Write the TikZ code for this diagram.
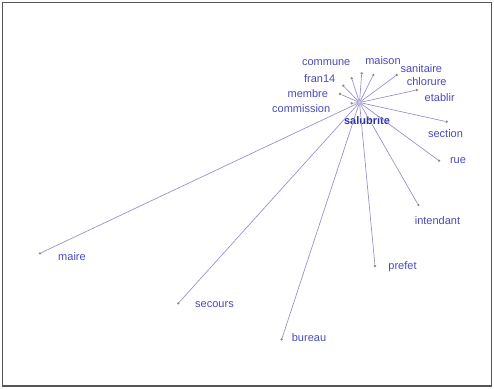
\documentclass[tikz,border=0pt]{standalone}
\usepackage{fontspec}
\setmainfont{Liberation Sans}
\usetikzlibrary{calc}
\definecolor{wordblue}{RGB}{72,74,186}
\definecolor{hubblue}{RGB}{38,50,166}
\definecolor{spoke}{RGB}{150,140,200}
\definecolor{dotgray}{RGB}{150,132,124}
\definecolor{frame}{RGB}{85,85,85}

\begin{document}
\begin{tikzpicture}[x=1pt,y=-1pt,
  word/.style={text=wordblue,font=\fontsize{11}{12}\selectfont,inner sep=0pt},
  leaf/.style={circle,fill=dotgray,inner sep=0pt,minimum size=2.6pt},
  link/.style={spoke,line width=0.65pt}]
  % frame of the figure
  \useasboundingbox (0,0) rectangle (494,388);
  \draw[frame,line width=1.1pt] (2.5,2.5) rectangle (491.5,386);
  % hub
  \node[circle,draw=spoke!80,fill=spoke!40,inner sep=0pt,minimum size=3.5pt] (hub) at (359.5,102.5) {};
  \node[text=hubblue,font=\fontsize{11}{12}\selectfont\bfseries,inner sep=0pt] (lsalubrite) at (367,120.7) {salubrite};
  % end points of the spokes
  \node[leaf] (dcommune) at (351.7,78.3) {};
  \node[leaf] (dmaison) at (361.7,73.3) {};
  \node[leaf] (dsanitaire) at (373.3,75) {};
  \node[leaf] (dchlorure) at (396.7,75) {};
  \node[leaf] (detablir) at (416.7,90) {};
  \node[leaf] (dfran) at (343.3,85.7) {};
  \node[leaf] (dmembre) at (340,94) {};
  \node[leaf] (dcommission) at (351.7,103.3) {};
  \node[leaf] (dsection) at (446.7,121.7) {};
  \node[leaf] (drue) at (439,160.7) {};
  \node[leaf] (dintendant) at (418.3,205) {};
  \node[leaf] (dprefet) at (375,266) {};
  \node[leaf] (dbureau) at (281.7,339.3) {};
  \node[leaf] (dsecours) at (178.3,303.3) {};
  \node[leaf] (dmaire) at (40,253.3) {};
  % spokes
  \draw[link] (hub) -- (dcommune);
  \draw[link] (hub) -- (dmaison);
  \draw[link] (hub) -- (dsanitaire);
  \draw[link] (hub) -- (dchlorure);
  \draw[link] (hub) -- (detablir);
  \draw[link] (hub) -- (dfran);
  \draw[link] (hub) -- (dmembre);
  \draw[link] (hub) -- (dcommission);
  \draw[link] (hub) -- (dsection);
  \draw[link] (hub) -- (drue);
  \draw[link] (hub) -- (dintendant);
  \draw[link] (hub) -- (dprefet);
  \draw[link] (hub) -- (dbureau);
  \draw[link] (hub) -- (dsecours);
  \draw[link] (hub) -- (dmaire);
  % words
  \node[word] (lcommune) at (326.2,62.3) {commune};
  \node[word] (lmaison) at (383,60.7) {maison};
  \node[word] (lsanitaire) at (421.3,68.3) {sanitaire};
  \node[word] (lchlorure) at (426.7,81.7) {chlorure};
  \node[word] (letablir) at (439.7,97.3) {etablir};
  \node[word] (lfran) at (319.7,79) {fran14};
  \node[word] (lmembre) at (307.8,93.3) {membre};
  \node[word] (lcommission) at (301.2,109) {commission};
  \node[word] (lsection) at (445.5,133.3) {section};
  \node[word] (lrue) at (458,160.7) {rue};
  \node[word] (lintendant) at (437.5,220.7) {intendant};
  \node[word] (lprefet) at (402.5,266.7) {prefet};
  \node[word] (lbureau) at (309,337.5) {bureau};
  \node[word] (lsecours) at (214.5,305) {secours};
  \node[word] (lmaire) at (72,256.7) {maire};
\end{tikzpicture}
\end{document}
